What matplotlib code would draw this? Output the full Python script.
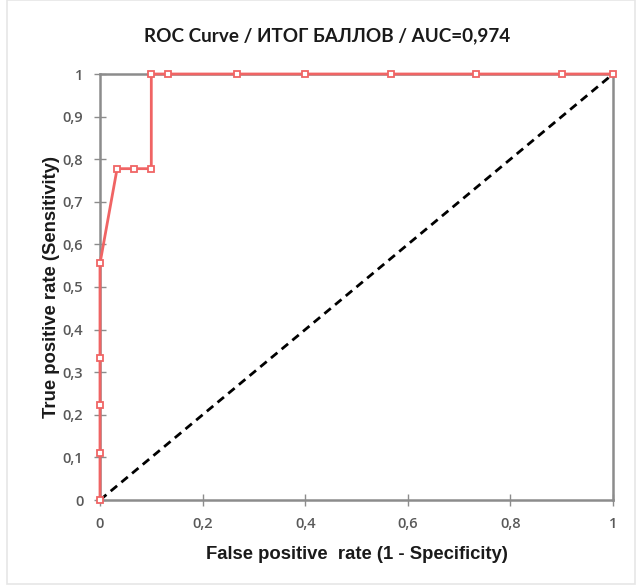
import matplotlib
matplotlib.use("Agg")
import matplotlib.pyplot as plt
from matplotlib.patches import Rectangle

fpr = [0, 0, 0, 0, 0, 1/30, 2/30, 3/30, 3/30, 4/30, 8/30, 12/30, 17/30, 22/30, 27/30, 1]
tpr = [0, 1/9, 2/9, 3/9, 5/9, 7/9, 7/9, 7/9, 1, 1, 1, 1, 1, 1, 1, 1]
ticks = [0, 0.2, 0.4, 0.6, 0.8, 1]
xtick_labels = ["0", "0,2", "0,4", "0,6", "0,8", "1"]
yticks = [0, 0.1, 0.2, 0.3, 0.4, 0.5, 0.6, 0.7, 0.8, 0.9, 1]
ytick_labels = ["0", "0,1", "0,2", "0,3", "0,4", "0,5", "0,6", "0,7", "0,8", "0,9", "1"]

fig = plt.figure(figsize=(6.37, 5.87), dpi=100)
fig.patches.append(Rectangle((7/637, 3/587), 628/637, 584/587, transform=fig.transFigure,
                             fill=False, edgecolor="#e6e6e6", lw=1.2))
ax = fig.add_axes([100/637, 1 - 500/587, 513/637, 426/587])

ax.plot([0, 1], [0, 1], color="black", lw=2, ls=(0, (3, 2)), zorder=2)
ax.plot(fpr, tpr, color="#f06464", lw=2, marker="s", ms=5, mfc="white",
        mec="#f06464", mew=1.3, zorder=3, clip_on=False)

ax.set_xlim(0, 1)
ax.set_ylim(0, 1)
for s in ax.spines.values():
    s.set_color("#8c8c8c")
    s.set_linewidth(1.8)
ax.set_xticks(ticks)
ax.set_xticklabels(xtick_labels)
ax.set_yticks(yticks)
ax.set_yticklabels(ytick_labels)
ax.tick_params(direction="inout", length=8, width=1, color="#8c8c8c",
               labelcolor="#595959", labelsize=10.5, pad=8)
for lab in ax.get_xticklabels() + ax.get_yticklabels():
    lab.set_fontfamily("Open Sans")
    lab.set_fontweight("semibold")

fig.text(327/637, 1 - 36/587, "ROC Curve / ИТОГ БАЛЛОВ / AUC=0,974", ha="center", va="center",
         fontsize=13.6, fontweight="bold", family="Lato", color="#1a1a1a")
ax.set_xlabel("False positive  rate (1 - Specificity)", fontsize=13.3, fontweight="bold",
              family="Liberation Sans", color="#1a1a1a", labelpad=11)
ax.set_ylabel("True positive rate (Sensitivity)", fontsize=13.3, fontweight="bold",
              family="Liberation Sans", color="#1a1a1a", labelpad=2)

fig.savefig("out.png", dpi=100, facecolor="white")
